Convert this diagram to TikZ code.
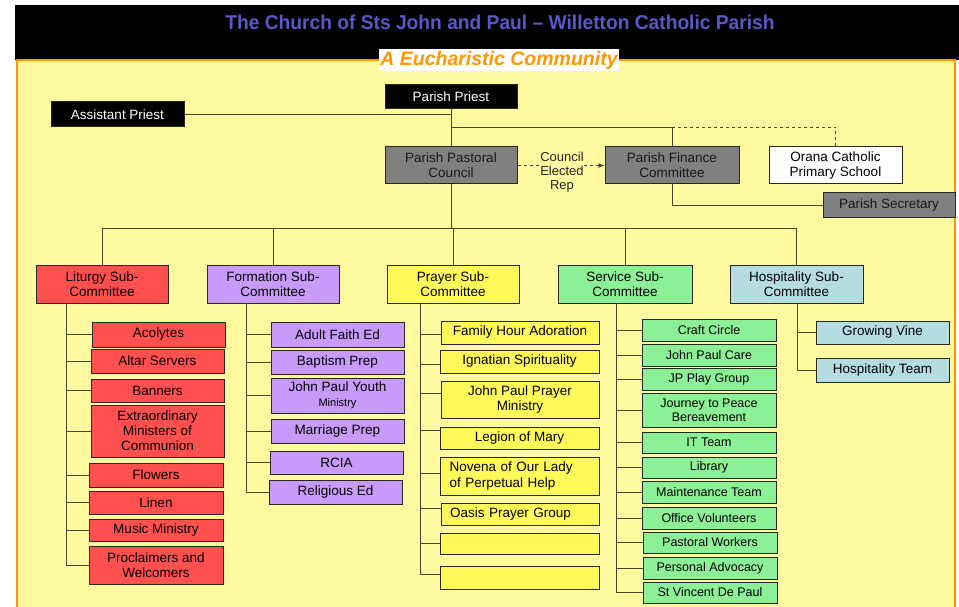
\documentclass[tikz,border=0pt]{standalone}
\usepackage{fontspec}
\setmainfont{Liberation Sans}
\usetikzlibrary{arrows.meta}
\definecolor{bgyel}{RGB}{255,250,160}
\definecolor{orng}{RGB}{255,150,0}
\definecolor{ttl}{RGB}{88,88,200}
\definecolor{cred}{RGB}{255,80,80}
\definecolor{cpur}{RGB}{200,155,250}
\definecolor{cyel}{RGB}{255,250,90}
\definecolor{cgrn}{RGB}{140,240,150}
\definecolor{cblu}{RGB}{180,220,225}
\definecolor{cgry}{RGB}{128,128,128}
\definecolor{conc}{RGB}{70,70,40}
\definecolor{bord}{RGB}{40,40,30}
\newcommand\mybox[7]{%
  \pgfmathsetmacro\bxw{#4-#2}\pgfmathsetmacro\bxh{#5-#3}%
  \pgfmathsetmacro\bxx{(#2+#4)/2}\pgfmathsetmacro\bxy{(#3+#5)/2}%
  \node[#6, minimum width=\bxw pt, minimum height=\bxh pt] (#1) at (\bxx,\bxy) {#7};}
\tikzset{
  bx/.style={draw=bord, line width=1pt, align=center, inner sep=1pt, font=\fontsize{13.5}{15}\selectfont},
  blk/.style={bx, fill=black, text=white},
  gry/.style={bx, fill=cgry, text=black!90},
  wht/.style={bx, fill=white},
  rbox/.style={bx, fill=cred},
  pbox/.style={bx, fill=cpur},
  ybox/.style={bx, fill=cyel},
  ybig/.style={ybox, font=\fontsize{13.5}{15.5}\selectfont},
  gbox/.style={bx, fill=cgrn},
  gsm/.style={gbox, font=\fontsize{12.5}{14}\selectfont},
  bbox/.style={bx, fill=cblu},
  conn/.style={draw=conc, line width=0.9pt},
}
\begin{document}
\begin{tikzpicture}[x=1pt,y=-1pt]
\useasboundingbox (0,0) rectangle (959,607);
\fill[white] (0,0) rectangle (959,607);
\fill[black] (15,5) rectangle (959,60);
\fill[bgyel] (17,60) rectangle (955,607);
\draw[orng, line width=1.6pt] (17,607) -- (17,60) -- (955,60) -- (955,607);
\node[text=ttl, font=\bfseries\fontsize{20}{22}\selectfont, inner sep=0pt] (title) at (500,22)
  {\scalebox{0.96}[1]{The Church of Sts John and Paul -- Willetton Catholic Parish}};
\node[fill=white, text=orng, font=\bfseries\itshape\fontsize{19.5}{21}\selectfont, inner sep=1.5pt] (sub) at (499,60) {A Eucharistic Community};

% top level
\mybox{pp}{385}{85}{517}{109}{blk}{Parish Priest}
\mybox{ap}{51}{102}{184}{127}{blk}{Assistant Priest}
\mybox{ppc}{385}{147}{517}{184}{gry}{Parish Pastoral\\Council}
\mybox{pfc}{605}{147}{739}{184}{gry}{Parish Finance\\Committee}
\mybox{ocps}{769}{147}{902}{184}{wht}{Orana Catholic\\Primary School}
\mybox{sec}{823}{193}{955}{217}{gry}{Parish Secretary}

% subcommittees
\mybox{lit}{36}{265}{168}{303}{rbox}{Liturgy Sub-\\Committee}
\mybox{form}{207}{265}{339}{303}{pbox}{Formation Sub-\\Committee}
\mybox{pray}{387}{265}{519}{303}{ybox}{Prayer Sub-\\Committee}
\mybox{serv}{558}{265}{692}{303}{gbox}{Service Sub-\\Committee}
\mybox{hosp}{730}{265}{863}{303}{bbox}{Hospitality Sub-\\Committee}

% liturgy
\mybox{aco}{92}{322}{225}{347}{rbox}{Acolytes}
\mybox{alt}{91}{349}{224}{373}{rbox}{Altar Servers}
\mybox{ban}{91}{379}{224}{402}{rbox}{Banners}
\mybox{emc}{91}{405}{224}{457}{rbox}{Extraordinary\\Ministers of\\Communion}
\mybox{flo}{89}{463}{223}{487}{rbox}{Flowers}
\mybox{lin}{89}{491}{223}{514}{rbox}{Linen}
\mybox{mus}{89}{519}{223}{541}{rbox}{Music Ministry}
\mybox{pro}{89}{546}{223}{584}{rbox}{Proclaimers and\\Welcomers}

% formation
\mybox{afe}{271}{322}{404}{347}{pbox}{Adult Faith Ed}
\mybox{bap}{271}{350}{404}{374}{pbox}{Baptism Prep}
\mybox{jpy}{271}{378}{404}{413}{pbox}{John Paul Youth\\{\fontsize{11}{12.5}\selectfont Ministry}}
\mybox{mar}{271}{419}{404}{443}{pbox}{Marriage Prep}
\mybox{rcia}{270}{451}{403}{474}{pbox}{RCIA}
\mybox{rel}{269}{480}{402}{504}{pbox}{Religious Ed}

% prayer
\mybox{fha}{441}{321}{599}{344}{ybig}{Family Hour Adoration}
\mybox{ign}{440}{350}{599}{373}{ybig}{Ignatian Spirituality}
\mybox{jpp}{441}{381}{599}{418}{ybig}{John Paul Prayer\\Ministry}
\mybox{leg}{440}{427}{599}{449}{ybig}{Legion of Mary}
\mybox{nov}{440}{457}{599}{495}{ybig, text width=140pt, align=left}{Novena of Our Lady\\of Perpetual Help}
\mybox{oas}{441}{503}{599}{525}{ybig, text width=140pt, align=left}{Oasis Prayer Group}
\mybox{ea}{440}{533}{599}{554}{ybox}{}
\mybox{eb}{440}{566}{599}{589}{ybox}{}

% service
\mybox{cc}{642}{319}{776}{341}{gsm}{Craft Circle}
\mybox{jpc}{642}{344}{776}{366}{gsm}{John Paul Care}
\mybox{jpg}{642}{368}{776}{390}{gsm}{JP Play Group}
\mybox{jtp}{642}{393}{776}{427}{gsm}{Journey to Peace\\Bereavement}
\mybox{itt}{642}{432}{776}{453}{gsm}{IT Team}
\mybox{lib}{642}{457}{776}{478}{gsm}{Library}
\mybox{mai}{642}{481}{776}{503}{gsm}{Maintenance Team}
\mybox{off}{642}{507}{776}{529}{gsm}{Office Volunteers}
\mybox{pw}{643}{532}{777}{553}{gsm}{Pastoral Workers}
\mybox{pa}{643}{557}{777}{579}{gsm}{Personal Advocacy}
\mybox{svdp}{643}{582}{777}{603}{gsm}{St Vincent De Paul}

% hospitality
\mybox{gv}{816}{321}{949}{344}{bbox}{Growing Vine}
\mybox{ht}{816}{358}{949}{382}{bbox}{Hospitality Team}

% top connectors
\coordinate (j1) at (451,127);
\coordinate (busL) at (102,228);
\coordinate (busR) at (797,228);
\draw[conn] (pp.south) -- (ppc.north);
\draw[conn] (ap.east) -- (ap.east -| pp.south);
\draw[conn] (j1) -| (pfc.north);
\draw[conn, dashed] (pfc.north |- j1) -| (ocps.north);
\draw[conn] (pfc.south) |- (sec.west);
\draw[conn, dashed, -{Latex[length=6pt,width=5pt]}] (ppc.east) -- (pfc.west);
\node[fill=bgyel, inner sep=0.5pt, align=center, font=\fontsize{13}{14}\selectfont, text=black!85] (cer) at (562,172) {Council\\Elected\\Rep};
\draw[conn] (ppc.south) -- (ppc.south |- busL);
\draw[conn] (busL) -- (busR);
\foreach \n in {lit,form,pray,serv,hosp} \draw[conn] (\n.north |- busL) -- (\n.north);

% trunks
\coordinate (tl) at (66,303);
\coordinate (tf) at (246,303);
\coordinate (tp) at (420,303);
\coordinate (ts) at (616,303);
\coordinate (th) at (797,303);
\foreach \c in {aco,alt,ban,emc,flo,lin,mus,pro} \draw[conn] (tl) |- (\c.west);
\foreach \c in {afe,bap,jpy,mar,rcia,rel} \draw[conn] (tf) |- (\c.west);
\draw[conn] (tp) |- ([yshift=-2pt]fha.west);
\draw[conn] (tp) |- ([yshift=-3pt]ign.west);
\draw[conn] (tp) |- ([yshift=6pt]jpp.west);
\draw[conn] (tp) |- ([yshift=8pt]leg.west);
\draw[conn] (tp) |- ([yshift=3pt]nov.west);
\draw[conn] (tp) |- ([yshift=6pt]oas.west);
\draw[conn] (tp) |- (ea.west);
\draw[conn] (tp) |- ([yshift=3pt]eb.west);
\foreach \c in {cc,jpc,jpg,jtp,itt,lib,mai,off,pw,pa,svdp} \draw[conn] (ts) |- (\c.west);
\foreach \c in {gv,ht} \draw[conn] (th) |- (\c.west);
\end{tikzpicture}
\end{document}
